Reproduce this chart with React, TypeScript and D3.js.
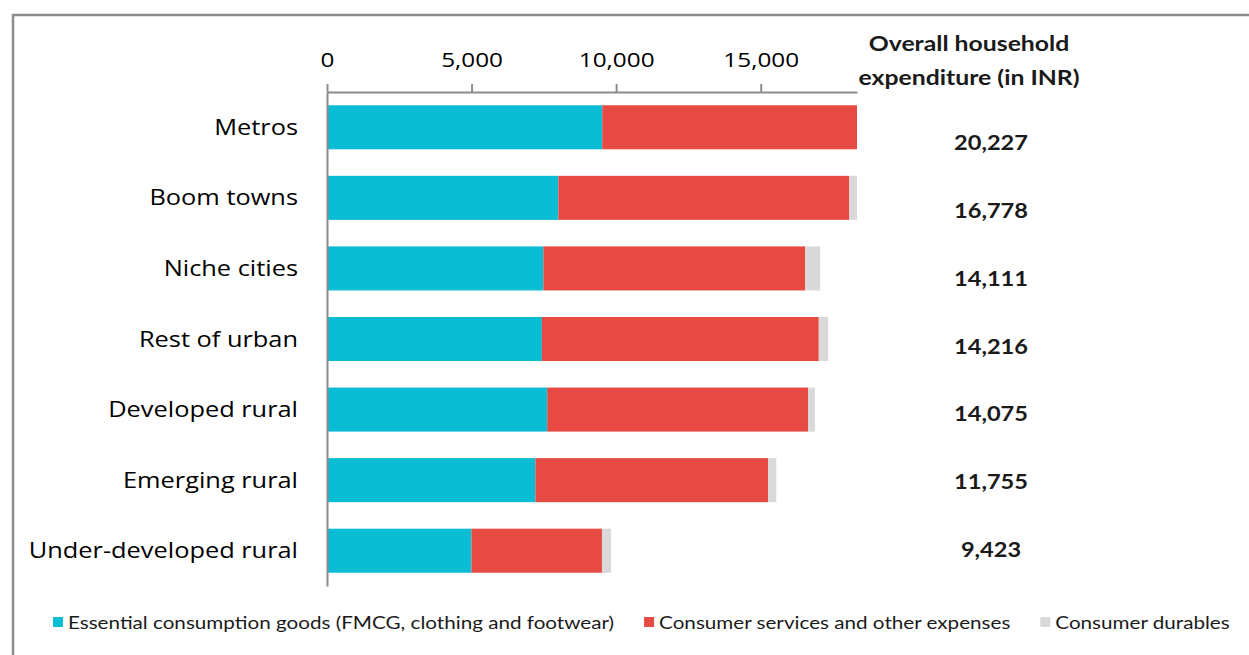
import { useEffect, useRef } from "react";
import * as d3 from "d3";

const categories = [
  "Metros",
  "Boom towns",
  "Niche cities",
  "Rest of urban",
  "Developed rural",
  "Emerging rural",
  "Under-developed rural",
];
const essentialGoods = [9520, 8000, 7485, 7432, 7616, 7208, 4997];
const servicesOther = [10050, 10065, 9056, 9575, 9019, 8051, 4512];
const durables = [657, 350, 518, 329, 238, 280, 315];
const overallTotals = ["20,227", "16,778", "14,111", "14,216", "14,075", "11,755", "9,423"];
const seriesKeys = ["essential", "services", "durables"];
const seriesNames = [
  "Essential consumption goods (FMCG, clothing and footwear)",
  "Consumer services and other expenses",
  "Consumer durables",
];
const seriesColors = ["#0BBCD5", "#E64A42", "#D9D9D9"];
const xTicks = [0, 5000, 10000, 15000];
const xMax = 18330;
const titleLines = ["Overall household", "expenditure (in INR)"];

const W = 1249;
const H = 655;
// the source picture is a bit stretched sideways, so text gets widened too
const SX = 1.18;
const axisColor = "#8c8c8c";

export default function App() {
  const svgRef = useRef<SVGSVGElement | null>(null);

  useEffect(() => {
    if (!svgRef.current) return;
    document.body.style.margin = "0";
    const svg = d3.select(svgRef.current);
    svg.selectAll("*").remove();

    const x = d3.scaleLinear().domain([0, xMax]).range([327, 857]);
    const y = d3
      .scaleBand()
      .domain(categories)
      .range([92, 586])
      .paddingInner(0.376)
      .paddingOuter(0.188);

    // outer frame (only top and left edges are visible)
    svg
      .append("path")
      .attr("d", `M13,${H} V15 H${W}`)
      .attr("fill", "none")
      .attr("stroke", axisColor)
      .attr("stroke-width", 2.5);

    const rows = categories.map((c, i) => ({
      category: c,
      essential: essentialGoods[i],
      services: servicesOther[i],
      durables: durables[i],
    }));
    const stacked = d3.stack<any>().keys(seriesKeys)(rows);

    svg
      .append("clipPath")
      .attr("id", "plot-clip")
      .append("rect")
      .attr("x", x(0))
      .attr("y", 0)
      .attr("width", x(xMax) - x(0))
      .attr("height", H);

    svg
      .append("g")
      .attr("clip-path", "url(#plot-clip)")
      .selectAll("g")
      .data(stacked)
      .join("g")
      .attr("fill", (_d, i) => seriesColors[i])
      .selectAll("rect")
      .data((d) => d)
      .join("rect")
      .attr("x", (d: any) => x(d[0]))
      .attr("y", (d: any) => y(d.data.category) ?? 0)
      .attr("width", (d: any) => Math.max(0, x(d[1]) - x(d[0])))
      .attr("height", y.bandwidth());

    const xAxis = svg
      .append("g")
      .attr("transform", `translate(0,${y.range()[0]})`)
      .call(
        d3
          .axisTop(x)
          .tickValues(xTicks)
          .tickFormat(d3.format(","))
          .tickSize(8)
          .tickSizeOuter(0)
          .tickPadding(17),
      );
    xAxis.select(".domain").attr("stroke", axisColor).attr("stroke-width", 2);
    xAxis.selectAll(".tick line").attr("stroke", axisColor).attr("stroke-width", 2);
    xAxis
      .selectAll("text")
      .attr("font-family", "'Open Sans', sans-serif")
      .attr("font-size", 20.6)
      .attr("fill", "#000")
      .attr("transform", `scale(${SX},1)`);

    const yAxis = svg
      .append("g")
      .attr("transform", `translate(${x(0)},0)`)
      .call(d3.axisLeft(y).tickSize(0).tickSizeOuter(0));
    yAxis.select(".domain").attr("stroke", axisColor).attr("stroke-width", 2);
    yAxis
      .selectAll("text")
      .attr("x", 0)
      .attr("dy", "0.35em")
      .attr("font-family", "'Open Sans', sans-serif")
      .attr("font-size", 21.5)
      .attr("fill", "#000")
      .attr("transform", `translate(-29,0) scale(${SX},1)`);

    // right-hand column with the overall totals
    const titleG = svg.append("g").attr("font-family", "Lato, sans-serif").attr("font-weight", 700);
    titleLines.forEach((line, i) => {
      titleG
        .append("text")
        .attr("transform", `translate(969,${51 + i * 34}) scale(${SX},1)`)
        .attr("text-anchor", "middle")
        .attr("font-size", 21)
        .attr("fill", "#1a1a1a")
        .text(line);
    });

    const totalY = d3.scalePoint().domain(categories).range([150, 557]);
    svg
      .append("g")
      .selectAll("text")
      .data(categories)
      .join("text")
      .attr("transform", (c) => `translate(991,${totalY(c)}) scale(${SX},1)`)
      .attr("text-anchor", "middle")
      .attr("font-family", "Lato, sans-serif")
      .attr("font-weight", 700)
      .attr("font-size", 20)
      .attr("fill", "#1a1a1a")
      .text((_c, i) => overallTotals[i]);

    // legend, laid out left to right like the spreadsheet one
    const legend = svg.append("g").attr("transform", "translate(0,629)");
    let lx = 53;
    seriesNames.forEach((name, i) => {
      legend
        .append("rect")
        .attr("x", lx)
        .attr("y", -12)
        .attr("width", 10)
        .attr("height", 10)
        .attr("fill", seriesColors[i]);
      const t = legend
        .append("text")
        .attr("transform", `translate(${lx + 15},0) scale(${SX},1)`)
        .attr("font-family", "Lato, sans-serif")
        .attr("font-size", 17.5)
        .attr("fill", "#1a1a1a")
        .text(name);
      const len = (t.node() as SVGTextElement).getComputedTextLength() * SX;
      lx += 15 + len + 30;
    });
  }, []);

  return <svg ref={svgRef} width={W} height={H} style={{ display: "block", background: "#fff" }} />;
}
